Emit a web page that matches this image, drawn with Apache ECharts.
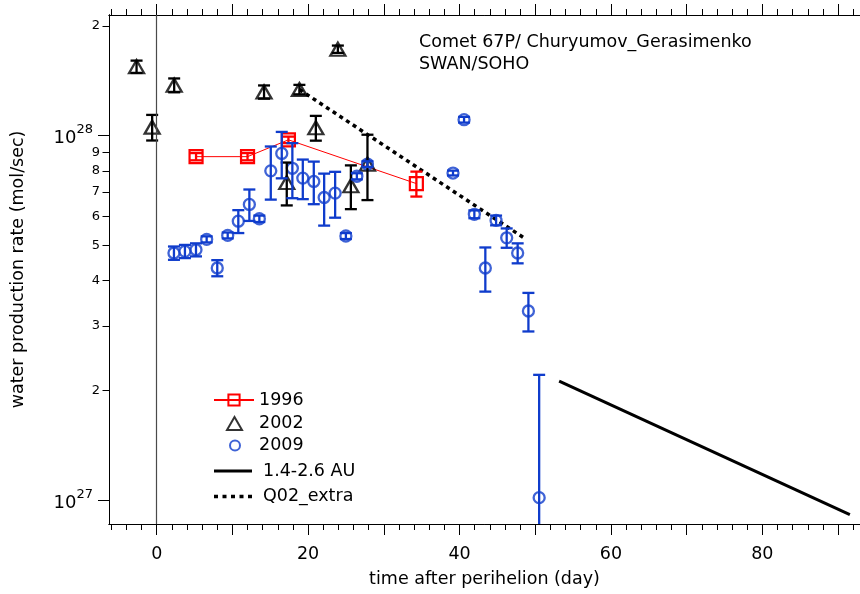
<!DOCTYPE html>
<html><head><meta charset="utf-8">
<script src="https://cdn.jsdelivr.net/npm/echarts@6/dist/echarts.min.js"></script>
<style>html,body{margin:0;padding:0;background:#fff}#c{width:860px;height:594px}</style>
</head><body><div id="c"></div>
<script>
// ---------------- data ----------------
const days1996 = [5.2, 12.0, 17.4, 34.3];
const q1996 = [8.75e27, 8.75e27, 9.73e27, 7.38e27];
const e1996 = [0.2e27, 0.2e27, 0.2e27, 0.58e27];

const days2002 = [-2.66, -0.6, 2.31, 14.18, 18.85, 23.93, 21.02, 17.18, 25.65, 27.84];
const q2002 = [1.545e28, 1.054e28, 1.374e28, 1.317e28, 1.337e28, 1.725e28, 1.05e28, 7.43e27, 7.28e27, 8.35e27];
const e2002 = [0.06e28, 0.085e28, 0.06e28, 0.055e28, 0.04e28, 0.04e28, 0.082e28, 1.0e27, 1.0e27, 1.7e27];

const days2009 = [2.28, 3.73, 5.19, 6.6, 8.0, 9.38, 10.78, 12.24, 13.56, 15.07, 16.52, 17.92, 19.3, 20.75,
  22.12, 23.57, 24.99, 26.44, 27.84, 39.14, 40.6, 41.96, 43.41, 44.83, 46.23, 47.68, 49.1, 50.52];
const q2009 = [4.76e27, 4.81e27, 4.86e27, 5.19e27, 4.33e27, 5.32e27, 5.82e27, 6.47e27, 5.91e27, 8.0e27, 8.93e27,
  8.13e27, 7.64e27, 7.48e27, 6.76e27, 6.95e27, 5.3e27, 7.73e27, 8.35e27, 7.89e27, 1.105e28, 6.08e27, 4.33e27,
  5.85e27, 5.24e27, 4.76e27, 3.30e27, 1.015e27];
const e2009 = [0.2e27, 0.2e27, 0.2e27, 0.1e27, 0.22e27, 0.1e27, 0.42e27, 0.64e27, 0.12e27, 1.33e27, 1.3e27,
  1.4e27, 0.95e27, 1.0e27, 1.1e27, 1.0e27, 0.1e27, 0.15e27, 0.15e27, 0.12e27, 0.2e27, 0.15e27, 0.6e27,
  0.18e27, 0.32e27, 0.3e27, 0.4e27, 1.19e27];

const daysAU = [53.16, 91.56];
const qAU = [2.12e27, 9.12e26];

const daysQ02 = [18.85, 48.8];
const qQ02 = [1.337e28, 5.19e27];

const xLabelValues = [0, 20, 40, 60, 80];
const xMajorTicks = [0, 10, 20, 30, 40, 50, 60, 70, 80, 90];
const xMinorTicks = [-6, -4, -2, 0, 2, 4, 6, 8, 10, 12, 14, 16, 18, 20, 22, 24, 26, 28, 30, 32, 34, 36, 38, 40,
  42, 44, 46, 48, 50, 52, 54, 56, 58, 60, 62, 64, 66, 68, 70, 72, 74, 76, 78, 80, 82, 84, 86, 88, 90, 92];
const yMinorTicks = [1e27, 2e27, 3e27, 4e27, 5e27, 6e27, 7e27, 8e27, 9e27, 1e28, 2e28];
const yMinorLabels = [2e27, 3e27, 4e27, 5e27, 6e27, 7e27, 8e27, 9e27, 2e28];
const yMajorTicks = [1e27, 1e28];

const X_MIN = -6.3, X_MAX = 92.9;
const Y_MIN = 8.594e26, Y_MAX = 2.141e28;

// ---------------- style ----------------
const FONT = 'DejaVu Sans';
const RED = '#ff0000', BLACK = '#000000', BLUE = '#0f3ccc';

function pairs(xs, ys) { return xs.map((x, i) => [x, ys[i]]); }

function errSeries(name, xs, ys, es, color) {
  const data = xs.map((x, i) => {
    let lo = ys[i] - es[i];
    let cap = 1;
    if (lo <= Y_MIN) { lo = Y_MIN; cap = 0; }
    return [x, lo, ys[i] + es[i], cap];
  });
  return {
    name: name, type: 'custom', silent: true, clip: true, z: 4,
    xAxisIndex: 0, yAxisIndex: 0,
    encode: { x: 0, y: [1, 2] },
    data: data,
    renderItem: function (params, api) {
      const x = api.value(0);
      const pLo = api.coord([x, api.value(1)]);
      const pHi = api.coord([x, api.value(2)]);
      const hw = 6;
      const st = { stroke: color, lineWidth: 2.3, fill: null };
      const ch = [
        { type: 'line', shape: { x1: pLo[0], y1: pLo[1], x2: pHi[0], y2: pHi[1] }, style: st },
        { type: 'line', shape: { x1: pHi[0] - hw, y1: pHi[1], x2: pHi[0] + hw, y2: pHi[1] }, style: st }
      ];
      if (api.value(3)) ch.push({ type: 'line', shape: { x1: pLo[0] - hw, y1: pLo[1], x2: pLo[0] + hw, y2: pLo[1] }, style: st });
      return { type: 'group', children: ch };
    }
  };
}

function mantissa(v) {
  const e = Math.floor(Math.log10(v) + 1e-9);
  return Math.round(v / Math.pow(10, e));
}
function exponent(v) { return Math.floor(Math.log10(v) + 1e-9); }

const xBase = { type: 'value', min: X_MIN, max: X_MAX, splitLine: { show: false },
  axisLine: { show: true, onZero: false, lineStyle: { color: BLACK, width: 1 } } };
const yBase = { type: 'log', logBase: 10, min: Y_MIN, max: Y_MAX, position: 'left', splitLine: { show: false },
  axisLine: { show: true, onZero: false, lineStyle: { color: BLACK, width: 1 } } };

const legendText = { fontFamily: FONT, fontSize: 17.5, color: BLACK, lineHeight: 14 };
function legendBox(name, left, centerY, w, h, extra, textPad) {
  return {
    orient: 'vertical', left: left, top: centerY - 7, itemWidth: w, itemHeight: h,
    selectedMode: false, padding: 0, symbolKeepAspect: true,
    textStyle: Object.assign({}, legendText, { padding: [0, 0, 0, textPad] }),
    data: [Object.assign({ name: name }, extra || {})]
  };
}

const option = {
  animation: false,
  backgroundColor: '#fff',
  textStyle: { fontFamily: FONT },
  title: {
    text: 'Comet 67P/ Churyumov_Gerasimenko\nSWAN/SOHO',
    left: 419, top: 32, padding: 0,
    textStyle: { fontFamily: FONT, fontSize: 17.5, fontWeight: 'normal', color: BLACK, lineHeight: 21.6 }
  },
  grid: { left: 109, right: 0, top: 15, bottom: 70, containLabel: false, outerBoundsMode: 'none' },
  legend: [
    legendBox('1996', 213, 398, 40, 14, null, 0),
    legendBox('2002', 226, 421.5, 15, 13, { icon: 'triangle' }, 12),
    legendBox('2009', 229, 443.5, 10, 10, { icon: 'circle' }, 14),
    legendBox('1.4-2.6 AU', 214, 469, 38, 14,
      { icon: 'path://M0,0h38v3h-38z', itemStyle: { color: BLACK, borderWidth: 0 } }, 6),
    legendBox('Q02_extra', 214, 494.5, 38, 14,
      { icon: 'path://M0,0h4v3.5h-4z M8.5,0h4v3.5h-4z M17,0h4v3.5h-4z M25.5,0h4v3.5h-4z M34,0h4v3.5h-4z',
        itemStyle: { color: BLACK, borderWidth: 0 } }, 6)
  ],
  xAxis: [
    Object.assign({}, xBase, {
      position: 'bottom',
      name: 'time after perihelion (day)', nameLocation: 'middle', nameGap: 46,
      nameTextStyle: { fontFamily: FONT, fontSize: 17.5, color: BLACK },
      axisTick: { show: true, inside: false, length: 11, customValues: xMajorTicks, lineStyle: { color: BLACK } },
      axisLabel: { show: true, customValues: xLabelValues, margin: 21, fontFamily: FONT, fontSize: 17.5, color: BLACK }
    }),
    Object.assign({}, xBase, {
      position: 'bottom',
      axisTick: { show: true, length: 6, customValues: xMinorTicks, lineStyle: { color: BLACK } },
      axisLabel: { show: false }
    }),
    Object.assign({}, xBase, {
      position: 'top',
      axisTick: { show: true, length: 11, customValues: xMajorTicks, lineStyle: { color: BLACK } },
      axisLabel: { show: false }
    }),
    Object.assign({}, xBase, {
      position: 'top',
      axisTick: { show: true, length: 6, customValues: xMinorTicks, lineStyle: { color: BLACK } },
      axisLabel: { show: false }
    })
  ],
  yAxis: [
    Object.assign({}, yBase, {
      name: 'water production rate (mol/sec)', nameLocation: 'middle', nameGap: 82,
      nameTextStyle: { fontFamily: FONT, fontSize: 17.5, color: BLACK },
      axisTick: { show: true, length: 6.5, customValues: yMinorTicks, lineStyle: { color: BLACK } },
      axisLabel: { show: true, customValues: yMinorLabels, margin: 9, fontFamily: FONT, fontSize: 13, color: BLACK,
        formatter: function (v) { return String(mantissa(v)); } }
    }),
    Object.assign({}, yBase, {
      axisTick: { show: true, length: 11, customValues: yMajorTicks, lineStyle: { color: BLACK } },
      axisLabel: { show: true, customValues: yMajorTicks, margin: 16, color: BLACK, fontFamily: FONT,
        formatter: function (v) { return '{b|10}{s|' + exponent(v) + '}'; },
        rich: {
          b: { fontFamily: FONT, fontSize: 18, lineHeight: 24, verticalAlign: 'bottom', color: BLACK },
          s: { fontFamily: FONT, fontSize: 13, lineHeight: 24, verticalAlign: 'top', color: BLACK }
        } }
    }),
    {
      // plain frame line on the left edge
      type: 'value', min: 0, max: 1, position: 'left', splitLine: { show: false },
      axisLine: { show: true, onZero: false, lineStyle: { color: BLACK, width: 1 } },
      axisTick: { show: false }, axisLabel: { show: false }
    }
  ],
  series: [
    {
      name: '1.4-2.6 AU', type: 'line', xAxisIndex: 0, yAxisIndex: 0, symbol: 'none', z: 3,
      data: pairs(daysAU, qAU), color: BLACK,
      lineStyle: { color: BLACK, width: 3 },
      markLine: { silent: true, symbol: ['none', 'none'], label: { show: false },
        lineStyle: { color: '#4a4a4a', width: 1.2, type: 'solid' }, data: [{ xAxis: 0 }] }
    },
    {
      name: 'Q02_extra', type: 'line', xAxisIndex: 0, yAxisIndex: 0, symbol: 'none', z: 3,
      data: pairs(daysQ02, qQ02), color: BLACK,
      lineStyle: { color: BLACK, width: 3.5, type: [4, 4], cap: 'butt' }
    },
    {
      name: '1996', type: 'line', xAxisIndex: 0, yAxisIndex: 0, symbol: 'rect', symbolSize: 13, z: 3,
      data: pairs(days1996, q1996), color: RED,
      itemStyle: { color: 'rgba(0,0,0,0)', borderColor: RED, borderWidth: 2.2 },
      lineStyle: { color: RED, width: 1 }
    },
    {
      name: '2002', type: 'scatter', xAxisIndex: 0, yAxisIndex: 0, symbol: 'triangle', symbolSize: [15, 13], z: 3,
      data: pairs(days2002, q2002), color: BLACK,
      itemStyle: { color: 'rgba(0,0,0,0)', borderColor: BLACK, borderWidth: 2.3 }
    },
    {
      name: '2009', type: 'scatter', xAxisIndex: 0, yAxisIndex: 0, symbol: 'circle', symbolSize: 11, z: 3,
      data: pairs(days2009, q2009), color: BLUE,
      itemStyle: { color: 'rgba(0,0,0,0)', borderColor: BLUE, borderWidth: 2.3 }
    },
    errSeries('err1996', days1996, q1996, e1996, RED),
    errSeries('err2002', days2002, q2002, e2002, BLACK),
    errSeries('err2009', days2009, q2009, e2009, BLUE)
  ]
};

const chart = echarts.init(document.getElementById('c'), null, { renderer: 'canvas' });
chart.setOption(option);
</script></body></html>
